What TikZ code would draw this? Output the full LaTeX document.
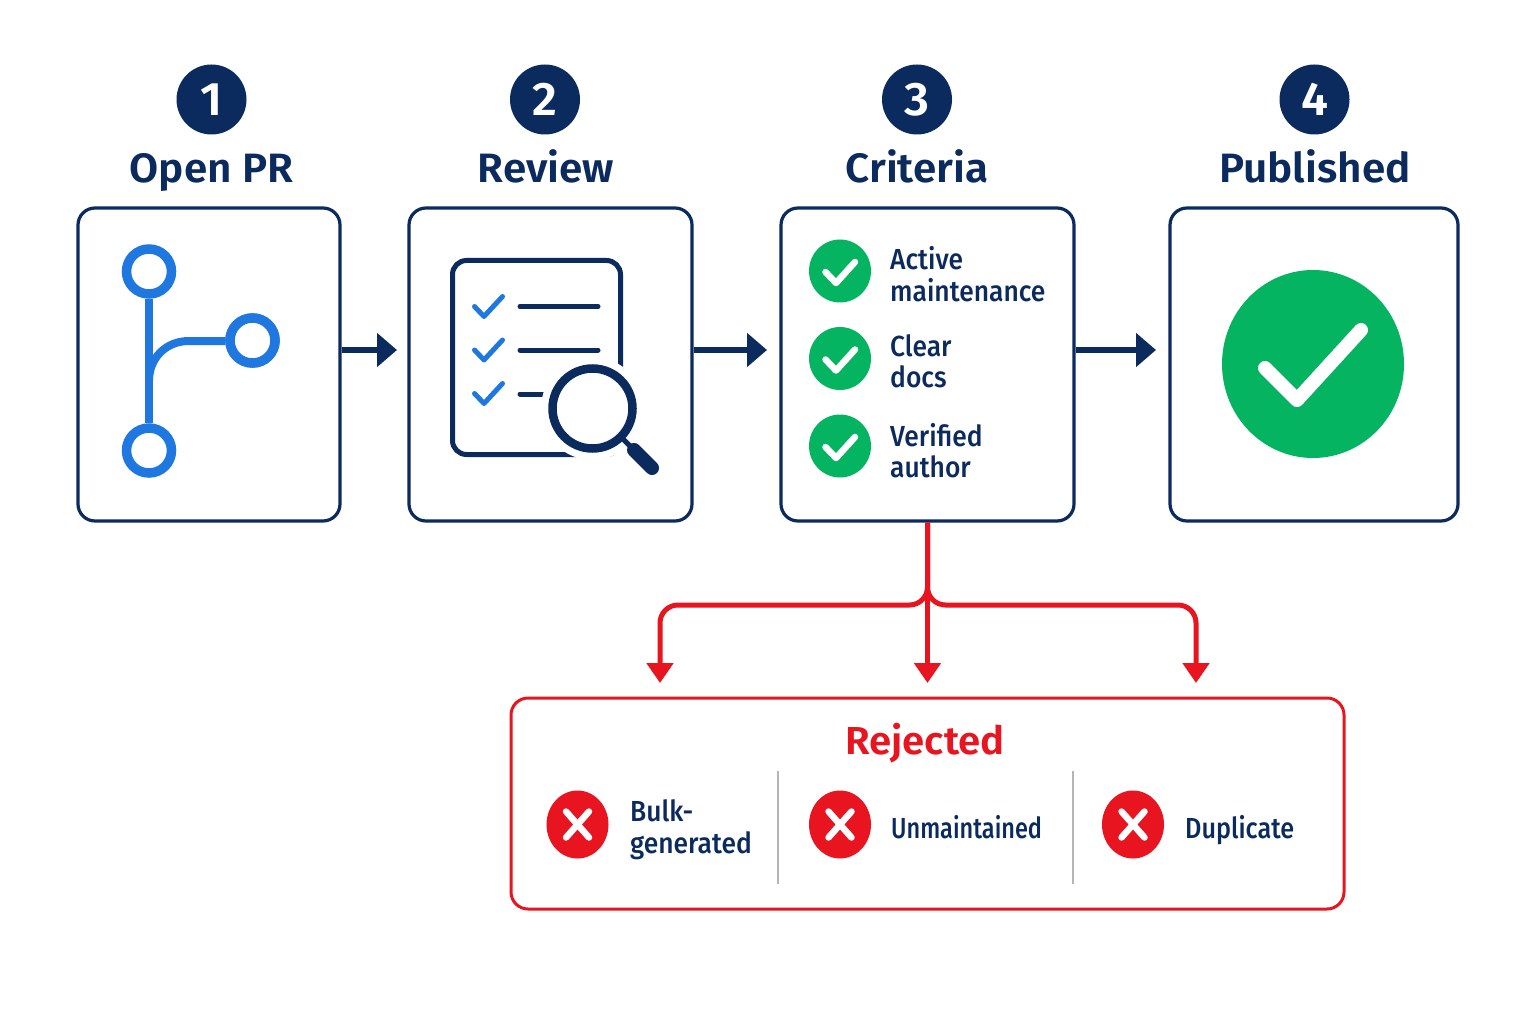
\documentclass[tikz,border=0pt]{standalone}
\usepackage{fontspec}
\setmainfont{Fira Sans}
\newfontfamily\titlef{Fira Sans SemiBold}[FakeStretch=1.03]
\newfontfamily\labelf{Fira Sans Medium}[FakeStretch=0.91]
\newfontfamily\labelun{Fira Sans Medium}[FakeStretch=0.81]
\newfontfamily\labeldu{Fira Sans Medium}[FakeStretch=0.87]
\usetikzlibrary{arrows.meta,calc,shapes.geometric}
\definecolor{navy}{HTML}{0B2A5E}
\definecolor{bluei}{HTML}{1F78E0}
\definecolor{greeni}{HTML}{05B461}
\definecolor{redi}{HTML}{E8141F}
\definecolor{sepg}{HTML}{B5B5B5}
\tikzset{
  card/.style={draw=navy,line width=3.2pt,rounded corners=17pt,fill=white,inner sep=0pt},
  badge/.style={circle,fill=navy,text=white,inner sep=0pt,minimum size=70pt,font=\fontsize{47}{47}\selectfont\titlef},
  steptitle/.style={text=navy,inner sep=0pt,anchor=base,font=\fontsize{41}{41}\selectfont\titlef},
  flow/.style={draw=navy,line width=5.5pt,-{Triangle[length=20pt,width=33pt]}},
  rej/.style={draw=redi,line width=5pt,rounded corners=18pt,-{Triangle[length=20pt,width=26pt]}},
  ring/.style={circle,draw=bluei,line width=9.5pt,fill=white,inner sep=0pt,minimum size=45pt},
  branch/.style={draw=bluei,line width=8pt},
  dot/.style={ellipse,fill=greeni,inner sep=0pt,minimum width=62pt,minimum height=63pt},
  xdot/.style={ellipse,fill=redi,inner sep=0pt,minimum width=62pt,minimum height=68pt},
  lab/.style={text=navy,anchor=west,align=left,inner sep=0pt,font=\fontsize{29}{31.5}\selectfont\labelf},
  onelab/.style={text=navy,anchor=base west,inner sep=0pt,font=\fontsize{29}{31.5}\selectfont},
  wmark/.style={draw=white,line width=6.5pt,line cap=round,line join=round},
  doc/.style={draw=navy,line width=5pt,line cap=round},
  tick/.style={draw=bluei,line width=5pt,line cap=round,line join=round}
}
\begin{document}
\begin{tikzpicture}[x=1pt,y=-1pt]
\useasboundingbox[fill=white] (0,0) rectangle (1536,1024);
% cards
\node[card,minimum width=262pt,minimum height=313pt] (c1) at (209,364.5) {};
\node[card,minimum width=283pt,minimum height=313pt] (c2) at (550.5,364.5) {};
\node[card,minimum width=293pt,minimum height=313pt] (c3) at (927.5,364.5) {};
\node[card,minimum width=288pt,minimum height=313pt] (c4) at (1314,364.5) {};
% badges & titles
\node[badge] (b1) at (211.5,99.5) {1};
\node[badge] (b2) at (545,99.5) {2};
\node[badge] (b3) at (917,99.5) {3};
\node[badge] (b4) at (1314.5,99.5) {4};
\node[steptitle] (t1) at (211.5,183) {Open PR};
\node[steptitle] (t2) at (546,183) {Review};
\node[steptitle] (t3) at (917,183) {Criteria};
\node[steptitle] (t4) at (1315,183) {Published};
% flow arrows
\coordinate (a1) at (397,350);
\coordinate (a2) at (767,350);
\coordinate (a3) at (1156,350);
\draw[flow] (c1.east |- a1) -- (a1);
\draw[flow] (c2.east |- a2) -- (a2);
\draw[flow] (c3.east |- a3) -- (a3);
% branch icon
\node[ring] (ft) at (149,271.5) {};
\node[ring] (fr) at (252.5,340.5) {};
\node[ring] (fb) at (149,450.5) {};
\coordinate (fk) at (149,381);
\coordinate (fh) at (189,341);
\draw[branch] (ft) -- (fb);
\draw[branch] (fr.west |- fh) -- (fh) .. controls (166,341) and (149,358) .. (fk);
\node[ring] at (fr) {};
% review icon
\draw[doc,rounded corners=14pt] (452.5,260.5) rectangle (620.5,454.5);
\draw[doc] (520,306.5) -- (598,306.5);
\draw[doc] (520,350) -- (598,350);
\draw[doc] (520,394) -- (560,394);
\foreach \yy in {0,43.5,87}{
  \draw[tick] (474.5,306.5+\yy) -- (484,316.5+\yy) -- (502.5,296.5+\yy);
}
\fill[white] (592.5,408.5) circle (51.5);
\draw[navy,line width=5pt] (622,438) -- (634,450);
\draw[navy,line width=14pt,line cap=round] (634,450) -- (652,468);
\draw[navy,line width=8.5pt] (592.5,408.5) circle (40);
% criteria
\node[dot] (d1) at (840,271) {};
\node[dot] (d2) at (840,358.5) {};
\node[dot] (d3) at (840,446) {};
\foreach \n in {d1,d2,d3}{
  \draw[wmark] ($(\n)+(-14.5,1)$) -- ($(\n)+(-4,12)$) -- ($(\n)+(15,-9)$);
}
\node[lab] (l1) at (890,274) {Active\\maintenance};
\node[lab] (l2) at (890,361.5) {Clear\\docs};
\node[lab] (l3) at (890,450.5) {Verified\\author};
% published
\node[ellipse,fill=greeni,inner sep=0pt,minimum width=182pt,minimum height=188pt] (ok) at (1313,364) {};
\draw[wmark,line width=14pt] (1265,368) -- (1297,400) -- (1361,330);
% rejected box
\node[draw=redi,line width=3pt,rounded corners=17pt,fill=white,inner sep=0pt,minimum width=833pt,minimum height=211pt] (rb) at (927.5,803.5) {};
\node[text=redi,inner sep=0pt,anchor=base,font=\fontsize{39}{39}\selectfont\titlef] (rt) at (925,754) {Rejected};
\coordinate (r1) at (660,683);
\coordinate (r2) at (927.5,683);
\coordinate (r3) at (1196,683);
\coordinate (rm) at (927.5,605);
\draw[rej] (c3.south) -- (rm) -- (r1 |- rm) -- (r1);
\draw[rej] (c3.south) -- (rm) -- (r3 |- rm) -- (r3);
\draw[rej,rounded corners=0pt] (c3.south) -- (r2);
\node[xdot] (x1) at (577.5,824.5) {};
\node[xdot] (x2) at (840,824.5) {};
\node[xdot] (x3) at (1133,824.5) {};
\foreach \n in {x1,x2,x3}{
  \draw[wmark] ($(\n)+(-11.5,-13)$) -- ($(\n)+(11.5,13)$);
  \draw[wmark] ($(\n)+(-11.5,13)$) -- ($(\n)+(11.5,-13)$);
}
\node[lab] (e1) at (630,829.5) {Bulk-\\generated};
\node[onelab] (e2) at (891,838) {\labelun Unmaintained};
\node[onelab] (e3) at (1185,838) {\labeldu Duplicate};
\coordinate (s1a) at (778,771); \coordinate (s1b) at (778,884);
\coordinate (s2a) at (1073,771); \coordinate (s2b) at (1073,884);
\draw[sepg,line width=2.5pt] (s1a) -- (s1b);
\draw[sepg,line width=2.5pt] (s2a) -- (s2b);
\end{tikzpicture}
\end{document}
